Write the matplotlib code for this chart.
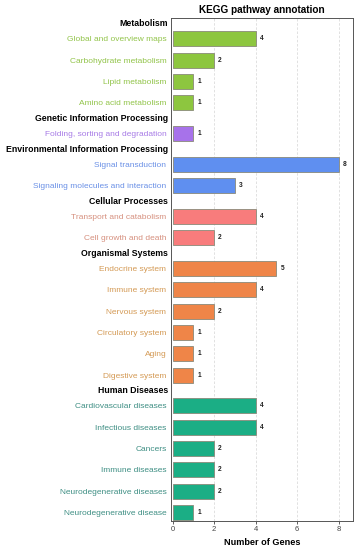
import matplotlib
matplotlib.use("Agg")
import matplotlib.pyplot as plt

plt.rcParams['font.family'] = ['Liberation Sans', 'DejaVu Sans']

groups = ["Metabolism", "Genetic Information Processing",
          "Environmental Information Processing", "Cellular Processes",
          "Organismal Systems", "Human Diseases"]
terms = [
    ["Global and overview maps", "Carbohydrate metabolism", "Lipid metabolism", "Amino acid metabolism"],
    ["Folding, sorting and degradation"],
    ["Signal transduction", "Signaling molecules and interaction"],
    ["Transport and catabolism", "Cell growth and death"],
    ["Endocrine system", "Immune system", "Nervous system", "Circulatory system", "Aging", "Digestive system"],
    ["Cardiovascular diseases", "Infectious diseases", "Cancers", "Immune diseases",
     "Neurodegenerative diseases", "Neurodegenerative disease"],
]
counts = [
    [4, 2, 1, 1],
    [1],
    [8, 3],
    [4, 2],
    [5, 4, 2, 1, 1, 1],
    [4, 4, 2, 2, 2, 1],
]
bar_colors = ["#8dc63f", "#a772ea", "#5f8ff0", "#f87c7c", "#ef8548", "#1bae85"]
label_colors = ["#92c44a", "#a77be6", "#6a90e6", "#d6907f", "#d49a55", "#3f8f84"]

fig = plt.figure(figsize=(3.57, 5.5), dpi=100)
ax = fig.add_axes([0.478, 0.053, 0.511, 0.914])

gap = 1.45
pos = 0.0
header_pos = []
all_y, all_v, all_c, all_lab, all_lc = [], [], [], [], []
for gi, g in enumerate(groups):
    if gi > 0:
        pos += gap - 1.0
    header_pos.append(pos - 0.72)
    for t, v in zip(terms[gi], counts[gi]):
        all_y.append(pos)
        all_v.append(v)
        all_c.append(bar_colors[gi])
        all_lab.append(t)
        all_lc.append(label_colors[gi])
        pos += 1.0
last = all_y[-1]

for x in [2, 4, 6, 8]:
    ax.axvline(x, color="#dcdcdc", lw=0.6, ls=(0, (3, 2)), zorder=0)

ax.barh(all_y, all_v, height=0.7, color=all_c, edgecolor="#8a8a7a", linewidth=0.6, zorder=2)
for y, v in zip(all_y, all_v):
    ax.text(v + 0.2, y, str(v), va="center", ha="left", fontsize=4.8,
            fontweight="bold", color="#222222")

ax.set_ylim(last + 0.4, -0.97)
ax.set_xlim(-0.09, 8.7)
ax.set_yticks(all_y)
ax.set_yticklabels(all_lab, fontsize=6)
for tl, c in zip(ax.get_yticklabels(), all_lc):
    tl.set_color(c)
ax.tick_params(axis="y", length=0, pad=3)
ax.set_xticks([0, 2, 4, 6, 8])
ax.tick_params(axis="x", length=2, width=0.6, labelsize=5.5, pad=2, colors="#444444")

for g, hp in zip(groups, header_pos):
    ax.text(-0.2, hp, g, ha="right", va="center",
            fontsize=6.3, fontweight="bold", color="black")

for s in ax.spines.values():
    s.set_color("#555555")
    s.set_linewidth(0.7)

ax.set_title("KEGG pathway annotation", fontsize=7.2, fontweight="bold", pad=4)
ax.set_xlabel("Number of Genes", fontsize=6.6, fontweight="bold", labelpad=3)

fig.savefig("out.png", dpi=100)
